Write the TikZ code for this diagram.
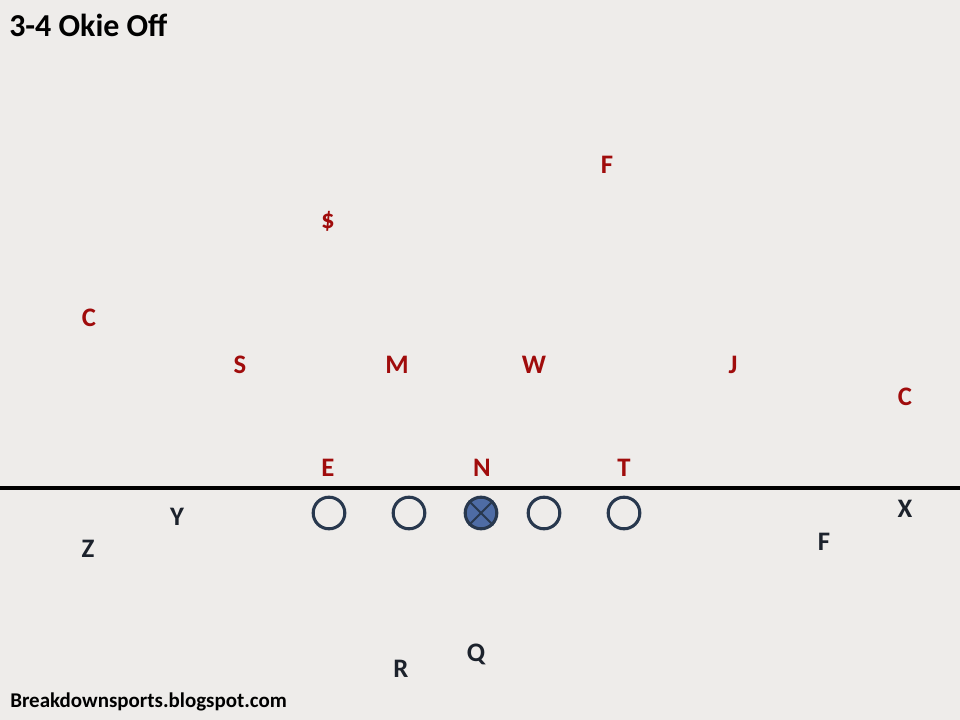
\documentclass[tikz,border=0pt]{standalone}
\usepackage{fontspec}
\setmainfont{Carlito}
\definecolor{bgcol}{RGB}{238,236,234}
\definecolor{defred}{RGB}{160,12,12}
\definecolor{offdark}{RGB}{28,34,44}
\definecolor{olcol}{RGB}{40,56,78}
\definecolor{ctrfill}{RGB}{78,108,165}
\begin{document}
\begin{tikzpicture}[
			x=0.025cm, y=-0.025cm,
			% Define styles for nodes
			every node/.style={inner sep=0pt, font=\fontsize{19}{21}\selectfont\bfseries},
			defender/.style={text=defred},
			player/.style={text=offdark},
			lineman/.style={draw=olcol, line width=2.2pt, circle, minimum size=22.5pt},
			center/.style={lineman, fill=ctrfill}
		]

		% Background and frame
		\fill[bgcol] (0,0) rectangle (960,720);
		\useasboundingbox (0,0) rectangle (960,720);

		% Title and footer
		\node[anchor=west, font=\fontsize{22.7}{25}\selectfont\bfseries] (title) at (9,25) {3-4 Okie Off};
		\node[anchor=west, font=\fontsize{14.9}{17}\selectfont\bfseries] (footer) at (10,702) {Breakdownsports.blogspot.com};

		% Line of scrimmage
		\coordinate (losL) at (0,488);
		\coordinate (losR) at (960,488);
		\draw[line width=2.2pt, black] (losL) -- (losR);

		% Defense
		\node[defender] (fs) at (607,165) {F};
		\node[defender] (ss) at (328,221) {\$};
		\node[defender] (cbL) at (89,318) {C};
		\node[defender] (sam) at (240,365) {S};
		\node[defender] (mike) at (397,365) {M};
		\node[defender] (will) at (534,365) {W};
		\node[defender] (jack) at (733,365) {J};
		\node[defender] (cbR) at (905,397) {C};
		\node[defender] (end) at (328,468) {E};
		\node[defender] (nose) at (482,468) {N};
		\node[defender] (tackle) at (624,468) {T};

		% Offensive line
		\node[lineman] (lt) at (329,513) {};
		\node[lineman] (lg) at (409,513) {};
		\node[center] (ctr) at (481,513) {};
		\node[lineman] (rg) at (544,513) {};
		\node[lineman] (rt) at (624,513) {};
		\draw[olcol, line width=1.4pt] (ctr.north west) -- (ctr.south east);
		\draw[olcol, line width=1.4pt] (ctr.north east) -- (ctr.south west);

		% Skill players
		\node[player] (y) at (177,517) {Y};
		\node[player] (z) at (88,549) {Z};
		\node[player] (x) at (905,509) {X};
		\node[player] (f) at (824,542) {F};
		\node[player] (r) at (401,669) {R};
		\node[player] (q) at (476,654) {Q};
	\end{tikzpicture}
\end{document}
